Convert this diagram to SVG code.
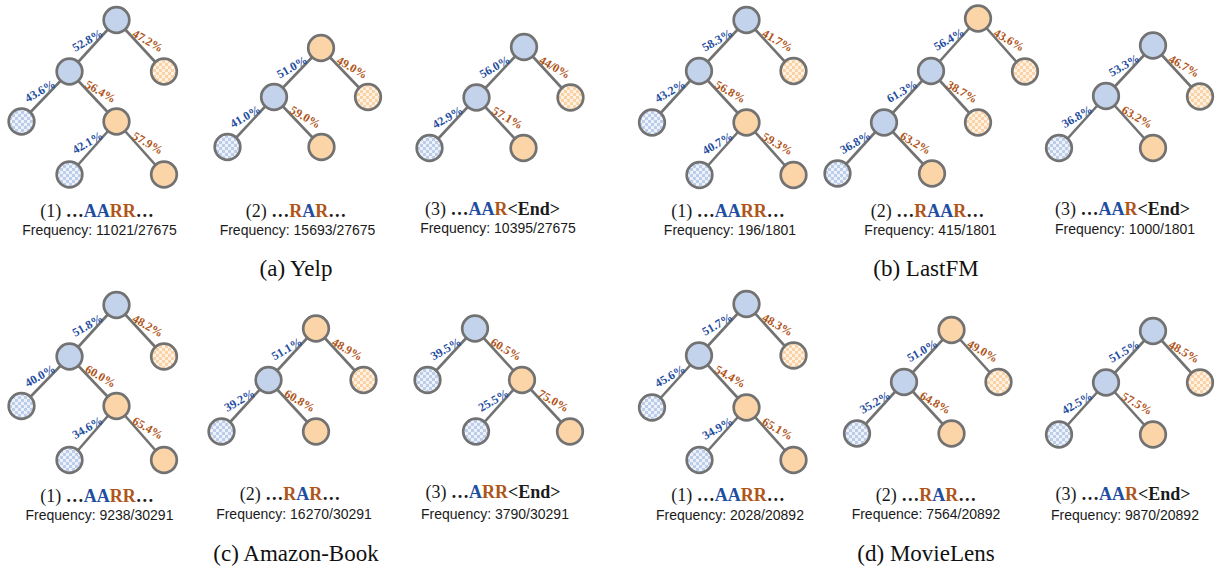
<svg xmlns="http://www.w3.org/2000/svg" width="1217" height="572" viewBox="0 0 1217 572">
<style>
.e{stroke:#727272;stroke-width:2.6;fill:none}
.n{stroke:#727272;stroke-width:2.7}
.nb{fill:#c4d3ec}
.no{fill:#fbd4a8}
.nbc{fill:url(#chkB)}
.noc{fill:url(#chkO)}
.p{font-family:"Liberation Serif",serif;font-weight:bold;font-size:12px;text-anchor:middle}
.pb{fill:#1f4ea0}
.po{fill:#b0551a}
.seq{font-family:"Liberation Serif",serif;font-size:18px;text-anchor:middle;fill:#1a1a1a}
.b{font-weight:bold}
.cb{fill:#1f4ea0}
.co{fill:#b0551a}
.fq{font-family:"Liberation Sans",sans-serif;font-size:14px;text-anchor:middle;fill:#1a1a1a}
.cap{font-family:"Liberation Serif",serif;font-size:23px;text-anchor:middle;fill:#111}
</style>
<defs>
<pattern id="chkB" width="6" height="6" patternUnits="userSpaceOnUse"><rect width="6" height="6" fill="#edf1f9"/><rect width="3" height="3" fill="#bccdea"/><rect x="3" y="3" width="3" height="3" fill="#bccdea"/></pattern>
<pattern id="chkO" width="6" height="6" patternUnits="userSpaceOnUse"><rect width="6" height="6" fill="#fff2e4"/><rect width="3" height="3" fill="#fbd2a4"/><rect x="3" y="3" width="3" height="3" fill="#fbd2a4"/></pattern>
</defs>

<g id="connectors">
<!-- Yelp 1 -->
<line class="e" x1="116.5" y1="20" x2="69.5" y2="71.5"/><line class="e" x1="116.5" y1="20" x2="164" y2="71.5"/>
<line class="e" x1="69.5" y1="71.5" x2="21.5" y2="121.5"/><line class="e" x1="69.5" y1="71.5" x2="116.5" y2="121.5"/>
<line class="e" x1="116.5" y1="121.5" x2="69.5" y2="174.5"/><line class="e" x1="116.5" y1="121.5" x2="164" y2="174.5"/>
<!-- Yelp 2 -->
<line class="e" x1="321" y1="48" x2="274" y2="97"/><line class="e" x1="321" y1="48" x2="368" y2="97"/>
<line class="e" x1="274" y1="97" x2="227.5" y2="147"/><line class="e" x1="274" y1="97" x2="321.5" y2="147"/>
<!-- Yelp 3 -->
<line class="e" x1="524" y1="47" x2="476.5" y2="97.5"/><line class="e" x1="524" y1="47" x2="570.5" y2="97.5"/>
<line class="e" x1="476.5" y1="97.5" x2="429.5" y2="148"/><line class="e" x1="476.5" y1="97.5" x2="523.5" y2="148"/>
<!-- LastFM 1 -->
<line class="e" x1="746.5" y1="20" x2="699" y2="71"/><line class="e" x1="746.5" y1="20" x2="793.5" y2="71"/>
<line class="e" x1="699" y1="71" x2="652" y2="122.5"/><line class="e" x1="699" y1="71" x2="746.5" y2="122.5"/>
<line class="e" x1="746.5" y1="122.5" x2="699.5" y2="175"/><line class="e" x1="746.5" y1="122.5" x2="793.5" y2="175"/>
<!-- LastFM 2 -->
<line class="e" x1="978" y1="18.5" x2="931" y2="71"/><line class="e" x1="978" y1="18.5" x2="1025" y2="71.5"/>
<line class="e" x1="931" y1="71" x2="884" y2="122.5"/><line class="e" x1="931" y1="71" x2="978" y2="122.5"/>
<line class="e" x1="884" y1="122.5" x2="837.5" y2="173.5"/><line class="e" x1="884" y1="122.5" x2="932" y2="173.5"/>
<!-- LastFM 3 -->
<line class="e" x1="1153" y1="45.5" x2="1106" y2="96"/><line class="e" x1="1153" y1="45.5" x2="1200" y2="96.5"/>
<line class="e" x1="1106" y1="96" x2="1059" y2="148"/><line class="e" x1="1106" y1="96" x2="1153" y2="148"/>
<!-- Amazon 1 -->
<line class="e" x1="116.5" y1="305" x2="69.5" y2="356.5"/><line class="e" x1="116.5" y1="305" x2="164" y2="356.5"/>
<line class="e" x1="69.5" y1="356.5" x2="21.5" y2="406"/><line class="e" x1="69.5" y1="356.5" x2="116.5" y2="406"/>
<line class="e" x1="116.5" y1="406" x2="69.5" y2="460"/><line class="e" x1="116.5" y1="406" x2="164" y2="460"/>
<!-- Amazon 2 -->
<line class="e" x1="316" y1="328.5" x2="268.5" y2="380"/><line class="e" x1="316" y1="328.5" x2="363.5" y2="380"/>
<line class="e" x1="268.5" y1="380" x2="221.5" y2="431.5"/><line class="e" x1="268.5" y1="380" x2="316" y2="431.5"/>
<!-- Amazon 3 -->
<line class="e" x1="475" y1="328.5" x2="427.5" y2="380"/><line class="e" x1="475" y1="328.5" x2="522" y2="380"/>
<line class="e" x1="522" y1="380" x2="476" y2="431.5"/><line class="e" x1="522" y1="380" x2="570" y2="431.5"/>
<!-- MovieLens 1 -->
<line class="e" x1="746.5" y1="304" x2="699" y2="355.5"/><line class="e" x1="746.5" y1="304" x2="793.5" y2="355.5"/>
<line class="e" x1="699" y1="355.5" x2="652" y2="407.5"/><line class="e" x1="699" y1="355.5" x2="746.5" y2="407.5"/>
<line class="e" x1="746.5" y1="407.5" x2="699.5" y2="460"/><line class="e" x1="746.5" y1="407.5" x2="793.5" y2="460"/>
<!-- MovieLens 2 -->
<line class="e" x1="951.5" y1="330" x2="904" y2="382"/><line class="e" x1="951.5" y1="330" x2="998.5" y2="382"/>
<line class="e" x1="904" y1="382" x2="857" y2="433.5"/><line class="e" x1="904" y1="382" x2="951.5" y2="433.5"/>
<!-- MovieLens 3 -->
<line class="e" x1="1153" y1="331" x2="1106" y2="382.5"/><line class="e" x1="1153" y1="331" x2="1200" y2="382.5"/>
<line class="e" x1="1106" y1="382.5" x2="1059" y2="434.5"/><line class="e" x1="1106" y1="382.5" x2="1153" y2="434.5"/>
</g>

<g id="nodes">
<g id="yelp1-n0"><circle class="n nb" cx="116.5" cy="20" r="12.8"/></g>
<g id="yelp1-n1"><circle class="n nb" cx="69.5" cy="71.5" r="12.8"/></g>
<g id="yelp1-n2"><circle class="n noc" cx="164" cy="71.5" r="12.8"/></g>
<g id="yelp1-n3"><circle class="n nbc" cx="21.5" cy="121.5" r="12.8"/></g>
<g id="yelp1-n4"><circle class="n no" cx="116.5" cy="121.5" r="12.8"/></g>
<g id="yelp1-n5"><circle class="n nbc" cx="69.5" cy="174.5" r="12.8"/></g>
<g id="yelp1-n6"><circle class="n no" cx="164" cy="174.5" r="12.8"/></g>

<g id="yelp2-n0"><circle class="n no" cx="321" cy="48" r="12.8"/></g>
<g id="yelp2-n1"><circle class="n nb" cx="274" cy="97" r="12.8"/></g>
<g id="yelp2-n2"><circle class="n noc" cx="368" cy="97" r="12.8"/></g>
<g id="yelp2-n3"><circle class="n nbc" cx="227.5" cy="147" r="12.8"/></g>
<g id="yelp2-n4"><circle class="n no" cx="321.5" cy="147" r="12.8"/></g>

<g id="yelp3-n0"><circle class="n nb" cx="524" cy="47" r="12.8"/></g>
<g id="yelp3-n1"><circle class="n nb" cx="476.5" cy="97.5" r="12.8"/></g>
<g id="yelp3-n2"><circle class="n noc" cx="570.5" cy="97.5" r="12.8"/></g>
<g id="yelp3-n3"><circle class="n nbc" cx="429.5" cy="148" r="12.8"/></g>
<g id="yelp3-n4"><circle class="n no" cx="523.5" cy="148" r="12.8"/></g>

<g id="lastfm1-n0"><circle class="n nb" cx="746.5" cy="20" r="12.8"/></g>
<g id="lastfm1-n1"><circle class="n nb" cx="699" cy="71" r="12.8"/></g>
<g id="lastfm1-n2"><circle class="n noc" cx="793.5" cy="71" r="12.8"/></g>
<g id="lastfm1-n3"><circle class="n nbc" cx="652" cy="122.5" r="12.8"/></g>
<g id="lastfm1-n4"><circle class="n no" cx="746.5" cy="122.5" r="12.8"/></g>
<g id="lastfm1-n5"><circle class="n nbc" cx="699.5" cy="175" r="12.8"/></g>
<g id="lastfm1-n6"><circle class="n no" cx="793.5" cy="175" r="12.8"/></g>

<g id="lastfm2-n0"><circle class="n no" cx="978" cy="18.5" r="12.8"/></g>
<g id="lastfm2-n1"><circle class="n nb" cx="931" cy="71" r="12.8"/></g>
<g id="lastfm2-n2"><circle class="n noc" cx="1025" cy="71.5" r="12.8"/></g>
<g id="lastfm2-n3"><circle class="n nb" cx="884" cy="122.5" r="12.8"/></g>
<g id="lastfm2-n4"><circle class="n noc" cx="978" cy="122.5" r="12.8"/></g>
<g id="lastfm2-n5"><circle class="n nbc" cx="837.5" cy="173.5" r="12.8"/></g>
<g id="lastfm2-n6"><circle class="n no" cx="932" cy="173.5" r="12.8"/></g>

<g id="lastfm3-n0"><circle class="n nb" cx="1153" cy="45.5" r="12.8"/></g>
<g id="lastfm3-n1"><circle class="n nb" cx="1106" cy="96" r="12.8"/></g>
<g id="lastfm3-n2"><circle class="n noc" cx="1200" cy="96.5" r="12.8"/></g>
<g id="lastfm3-n3"><circle class="n nbc" cx="1059" cy="148" r="12.8"/></g>
<g id="lastfm3-n4"><circle class="n no" cx="1153" cy="148" r="12.8"/></g>

<g id="amazon1-n0"><circle class="n nb" cx="116.5" cy="305" r="12.8"/></g>
<g id="amazon1-n1"><circle class="n nb" cx="69.5" cy="356.5" r="12.8"/></g>
<g id="amazon1-n2"><circle class="n noc" cx="164" cy="356.5" r="12.8"/></g>
<g id="amazon1-n3"><circle class="n nbc" cx="21.5" cy="406" r="12.8"/></g>
<g id="amazon1-n4"><circle class="n no" cx="116.5" cy="406" r="12.8"/></g>
<g id="amazon1-n5"><circle class="n nbc" cx="69.5" cy="460" r="12.8"/></g>
<g id="amazon1-n6"><circle class="n no" cx="164" cy="460" r="12.8"/></g>

<g id="amazon2-n0"><circle class="n no" cx="316" cy="328.5" r="12.8"/></g>
<g id="amazon2-n1"><circle class="n nb" cx="268.5" cy="380" r="12.8"/></g>
<g id="amazon2-n2"><circle class="n noc" cx="363.5" cy="380" r="12.8"/></g>
<g id="amazon2-n3"><circle class="n nbc" cx="221.5" cy="431.5" r="12.8"/></g>
<g id="amazon2-n4"><circle class="n no" cx="316" cy="431.5" r="12.8"/></g>

<g id="amazon3-n0"><circle class="n nb" cx="475" cy="328.5" r="12.8"/></g>
<g id="amazon3-n1"><circle class="n nbc" cx="427.5" cy="380" r="12.8"/></g>
<g id="amazon3-n2"><circle class="n no" cx="522" cy="380" r="12.8"/></g>
<g id="amazon3-n3"><circle class="n nbc" cx="476" cy="431.5" r="12.8"/></g>
<g id="amazon3-n4"><circle class="n no" cx="570" cy="431.5" r="12.8"/></g>

<g id="movielens1-n0"><circle class="n nb" cx="746.5" cy="304" r="12.8"/></g>
<g id="movielens1-n1"><circle class="n nb" cx="699" cy="355.5" r="12.8"/></g>
<g id="movielens1-n2"><circle class="n noc" cx="793.5" cy="355.5" r="12.8"/></g>
<g id="movielens1-n3"><circle class="n nbc" cx="652" cy="407.5" r="12.8"/></g>
<g id="movielens1-n4"><circle class="n no" cx="746.5" cy="407.5" r="12.8"/></g>
<g id="movielens1-n5"><circle class="n nbc" cx="699.5" cy="460" r="12.8"/></g>
<g id="movielens1-n6"><circle class="n no" cx="793.5" cy="460" r="12.8"/></g>

<g id="movielens2-n0"><circle class="n no" cx="951.5" cy="330" r="12.8"/></g>
<g id="movielens2-n1"><circle class="n nb" cx="904" cy="382" r="12.8"/></g>
<g id="movielens2-n2"><circle class="n noc" cx="998.5" cy="382" r="12.8"/></g>
<g id="movielens2-n3"><circle class="n nbc" cx="857" cy="433.5" r="12.8"/></g>
<g id="movielens2-n4"><circle class="n no" cx="951.5" cy="433.5" r="12.8"/></g>

<g id="movielens3-n0"><circle class="n nb" cx="1153" cy="331" r="12.8"/></g>
<g id="movielens3-n1"><circle class="n nb" cx="1106" cy="382.5" r="12.8"/></g>
<g id="movielens3-n2"><circle class="n noc" cx="1200" cy="382.5" r="12.8"/></g>
<g id="movielens3-n3"><circle class="n nbc" cx="1059" cy="434.5" r="12.8"/></g>
<g id="movielens3-n4"><circle class="n no" cx="1153" cy="434.5" r="12.8"/></g>
</g>

<g id="edge-labels">
<!-- Yelp 1 -->
<text class="p pb" transform="translate(87.5,40.25) rotate(-30)" y="4">52.8%</text>
<text class="p po" transform="translate(147.75,40.75) rotate(30)" y="4">47.2%</text>
<text class="p pb" transform="translate(40,91) rotate(-30)" y="4">43.6%</text>
<text class="p po" transform="translate(100.5,91.5) rotate(30)" y="4">56.4%</text>
<text class="p pb" transform="translate(87.5,142.5) rotate(-30)" y="4">42.1%</text>
<text class="p po" transform="translate(147.75,143) rotate(30)" y="4">57.9%</text>
<!-- Yelp 2 -->
<text class="p pb" transform="translate(292,67) rotate(-30)" y="4">51.0%</text>
<text class="p po" transform="translate(352,67.5) rotate(30)" y="4">49.0%</text>
<text class="p pb" transform="translate(245.25,116.5) rotate(-30)" y="4">41.0%</text>
<text class="p po" transform="translate(305.25,117) rotate(30)" y="4">59.0%</text>
<!-- Yelp 3 -->
<text class="p pb" transform="translate(494.75,66.75) rotate(-30)" y="4">56.0%</text>
<text class="p po" transform="translate(554.75,67.25) rotate(30)" y="4">44/0%</text>
<text class="p pb" transform="translate(447.5,117.25) rotate(-30)" y="4">42.9%</text>
<text class="p po" transform="translate(507.5,117.75) rotate(30)" y="4">57.1%</text>
<!-- LastFM 1 -->
<text class="p pb" transform="translate(717.25,40) rotate(-30)" y="4">58.3%</text>
<text class="p po" transform="translate(777.5,40.5) rotate(30)" y="4">41.7%</text>
<text class="p pb" transform="translate(670,91.25) rotate(-30)" y="4">43.2%</text>
<text class="p po" transform="translate(730.25,91.75) rotate(30)" y="4">56.8%</text>
<text class="p pb" transform="translate(717.5,143.25) rotate(-30)" y="4">40.7%</text>
<text class="p po" transform="translate(777.5,143.75) rotate(30)" y="4">59.3%</text>
<!-- LastFM 2 -->
<text class="p pb" transform="translate(949,39.25) rotate(-30)" y="4">56.4%</text>
<text class="p po" transform="translate(1009,40) rotate(30)" y="4">43.6%</text>
<text class="p pb" transform="translate(902,91.25) rotate(-30)" y="4">61.3%</text>
<text class="p po" transform="translate(962,91.75) rotate(30)" y="4">38.7%</text>
<text class="p pb" transform="translate(855.25,142.5) rotate(-30)" y="4">36.8%</text>
<text class="p po" transform="translate(915.5,143) rotate(30)" y="4">63.2%</text>
<!-- LastFM 3 -->
<text class="p pb" transform="translate(1124,65.25) rotate(-30)" y="4">53.3%</text>
<text class="p po" transform="translate(1184,66) rotate(30)" y="4">46.7%</text>
<text class="p pb" transform="translate(1077,116.5) rotate(-30)" y="4">36.8%</text>
<text class="p po" transform="translate(1137,117) rotate(30)" y="4">63.2%</text>
<!-- Amazon 1 -->
<text class="p pb" transform="translate(87.5,325.25) rotate(-30)" y="4">51.8%</text>
<text class="p po" transform="translate(147.75,325.75) rotate(30)" y="4">48.2%</text>
<text class="p pb" transform="translate(40,375.75) rotate(-30)" y="4">40.0%</text>
<text class="p po" transform="translate(100.5,376.25) rotate(30)" y="4">60.0%</text>
<text class="p pb" transform="translate(87.5,427.5) rotate(-30)" y="4">34.6%</text>
<text class="p po" transform="translate(147.75,428) rotate(30)" y="4">65.4%</text>
<!-- Amazon 2 -->
<text class="p pb" transform="translate(286.75,348.75) rotate(-30)" y="4">51.1%</text>
<text class="p po" transform="translate(347.25,349.25) rotate(30)" y="4">48.9%</text>
<text class="p pb" transform="translate(239.5,400.25) rotate(-30)" y="4">39.2%</text>
<text class="p po" transform="translate(299.75,400.75) rotate(30)" y="4">60.8%</text>
<!-- Amazon 3 -->
<text class="p pb" transform="translate(445.75,348.75) rotate(-30)" y="4">39.5%</text>
<text class="p po" transform="translate(506,349.25) rotate(30)" y="4">60.5%</text>
<text class="p pb" transform="translate(493.5,400.25) rotate(-30)" y="4">25.5%</text>
<text class="p po" transform="translate(553.5,400.75) rotate(30)" y="4">75.0%</text>
<!-- MovieLens 1 -->
<text class="p pb" transform="translate(717.25,324.25) rotate(-30)" y="4">51.7%</text>
<text class="p po" transform="translate(777.5,324.75) rotate(30)" y="4">48.3%</text>
<text class="p pb" transform="translate(670,376) rotate(-30)" y="4">45.6%</text>
<text class="p po" transform="translate(730.25,376.5) rotate(30)" y="4">54.4%</text>
<text class="p pb" transform="translate(717.5,428.25) rotate(-30)" y="4">34.9%</text>
<text class="p po" transform="translate(777.5,428.75) rotate(30)" y="4">65.1%</text>
<!-- MovieLens 2 -->
<text class="p pb" transform="translate(922.25,350.5) rotate(-30)" y="4">51.0%</text>
<text class="p po" transform="translate(982.5,351) rotate(30)" y="4">49.0%</text>
<text class="p pb" transform="translate(875,402.25) rotate(-30)" y="4">35.2%</text>
<text class="p po" transform="translate(935.25,402.75) rotate(30)" y="4">64.8%</text>
<!-- MovieLens 3 -->
<text class="p pb" transform="translate(1124,351.25) rotate(-30)" y="4">51.5%</text>
<text class="p po" transform="translate(1184,351.75) rotate(30)" y="4">48.5%</text>
<text class="p pb" transform="translate(1077,403) rotate(-30)" y="4">42.5%</text>
<text class="p po" transform="translate(1137,403.5) rotate(30)" y="4">57.5%</text>
</g>

<g id="labels">
<text class="seq" x="97" y="216.5">(1) <tspan class="b">…</tspan><tspan class="b cb">AA</tspan><tspan class="b co">RR</tspan><tspan class="b">…</tspan></text>
<text class="fq" x="99.5" y="234.5">Frequency: 11021/27675</text>
<text class="seq" x="296" y="216.5">(2) <tspan class="b">…</tspan><tspan class="b co">R</tspan><tspan class="b cb">A</tspan><tspan class="b co">R</tspan><tspan class="b">…</tspan></text>
<text class="fq" x="297.5" y="234.5">Frequency: 15693/27675</text>
<text class="seq" x="492.5" y="215">(3) <tspan class="b">…</tspan><tspan class="b cb">AA</tspan><tspan class="b co">R</tspan><tspan class="b">&lt;End&gt;</tspan></text>
<text class="fq" x="498" y="232.5">Frequency: 10395/27675</text>

<text class="seq" x="728" y="216.5">(1) <tspan class="b">…</tspan><tspan class="b cb">AA</tspan><tspan class="b co">RR</tspan><tspan class="b">…</tspan></text>
<text class="fq" x="730" y="234.5">Frequency: 196/1801</text>
<text class="seq" x="927.5" y="216.5">(2) <tspan class="b">…</tspan><tspan class="b co">R</tspan><tspan class="b cb">AA</tspan><tspan class="b co">R</tspan><tspan class="b">…</tspan></text>
<text class="fq" x="930.5" y="234.5">Frequency: 415/1801</text>
<text class="seq" x="1122.5" y="215">(3) <tspan class="b">…</tspan><tspan class="b cb">AA</tspan><tspan class="b co">R</tspan><tspan class="b">&lt;End&gt;</tspan></text>
<text class="fq" x="1125" y="233.5">Frequency: 1000/1801</text>

<text class="seq" x="97" y="501.5">(1) <tspan class="b">…</tspan><tspan class="b cb">AA</tspan><tspan class="b co">RR</tspan><tspan class="b">…</tspan></text>
<text class="fq" x="99.5" y="519.5">Frequency: 9238/30291</text>
<text class="seq" x="290" y="499.5">(2) <tspan class="b">…</tspan><tspan class="b co">R</tspan><tspan class="b cb">A</tspan><tspan class="b co">R</tspan><tspan class="b">…</tspan></text>
<text class="fq" x="294" y="519">Frequency: 16270/30291</text>
<text class="seq" x="493" y="498">(3) <tspan class="b">…</tspan><tspan class="b cb">A</tspan><tspan class="b co">RR</tspan><tspan class="b">&lt;End&gt;</tspan></text>
<text class="fq" x="495" y="519">Frequency: 3790/30291</text>

<text class="seq" x="728" y="501">(1) <tspan class="b">…</tspan><tspan class="b cb">AA</tspan><tspan class="b co">RR</tspan><tspan class="b">…</tspan></text>
<text class="fq" x="730" y="519.5">Frequency: 2028/20892</text>
<text class="seq" x="926" y="501">(2) <tspan class="b">…</tspan><tspan class="b co">R</tspan><tspan class="b cb">A</tspan><tspan class="b co">R</tspan><tspan class="b">…</tspan></text>
<text class="fq" x="926" y="519">Frequence: 7564/20892</text>
<text class="seq" x="1123" y="500">(3) <tspan class="b">…</tspan><tspan class="b cb">AA</tspan><tspan class="b co">R</tspan><tspan class="b">&lt;End&gt;</tspan></text>
<text class="fq" x="1125" y="519.5">Frequency: 9870/20892</text>
</g>

<g id="captions">
<text class="cap" x="296" y="276">(a) Yelp</text>
<text class="cap" x="926" y="276">(b) LastFM</text>
<text class="cap" x="296" y="561">(c) Amazon-Book</text>
<text class="cap" x="926" y="561">(d) MovieLens</text>
</g>
</svg>
